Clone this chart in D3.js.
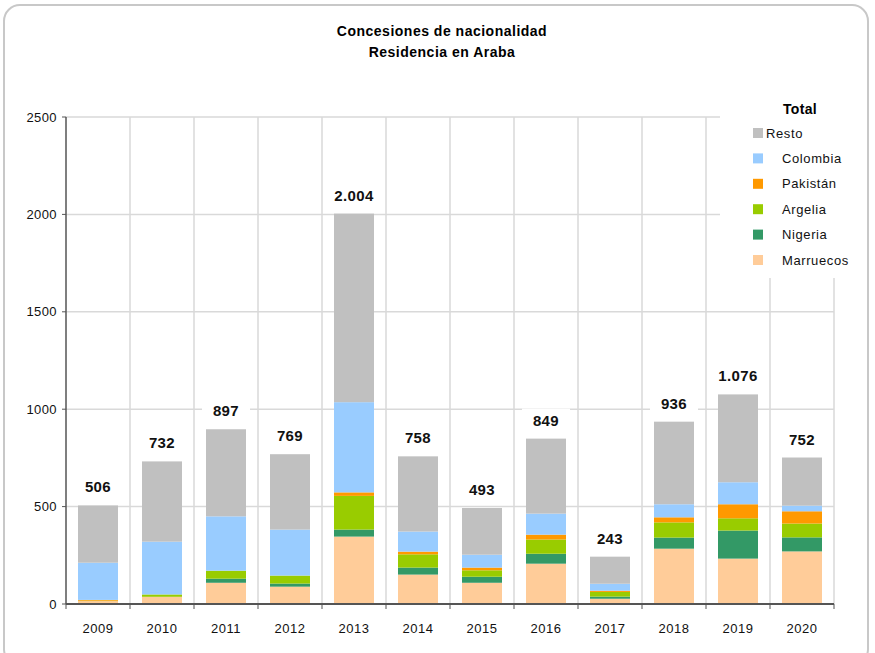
<!DOCTYPE html>
<html>
<head>
<meta charset="utf-8">
<script src="https://cdn.jsdelivr.net/npm/d3@7"></script>
<style>
body{margin:0;background:#fff;}
svg{display:block;font-family:'Liberation Sans',Arial,sans-serif;}
</style>
</head>
<body>
<svg id="chart" width="875" height="653"></svg>
<script>
var years=['2009','2010','2011','2012','2013','2014','2015','2016','2017','2018','2019','2020'];
var totals=[506,732,897,769,2004,758,493,849,243,936,1076,752];
var marruecos=[15,37,109,89,346,151,109,207,27,284,233,270];
var nigeria=[0,0,21,16,36,36,31,51,11,57,144,72];
var argelia=[2,12,41,41,173,68,33,73,24,78,63,71];
var pakistan=[4,0,0,0,18,14,14,25,6,26,72,63];
var colombia=[191,271,279,236,463,103,66,108,36,67,113,29];
var resto=[294,412,447,387,968,386,240,385,139,424,451,247];
var yTicks=[0,500,1000,1500,2000,2500];

// stack order, bottom to top
var seriesNames=['Marruecos','Nigeria','Argelia','Pakistán','Colombia','Resto'];
var seriesColors=['#ffcc99','#339966','#99cc00','#ff9900','#99ccff','#c0c0c0'];

var svg=d3.select('#chart');

// outer frame
svg.append('rect')
    .attr('x',4)
    .attr('y',5)
    .attr('width',864)
    .attr('height',660)
    .attr('rx',16)
    .attr('ry',16)
    .style('fill','#fff')
    .style('stroke','#c8c8c8')
    .style('stroke-width',2);

// title
svg.append('text')
    .attr('x',442)
    .attr('y',36)
    .attr('text-anchor','middle')
    .style('font-size','14px')
    .style('letter-spacing','0.5px')
    .style('font-weight','bold')
    .text('Concesiones de nacionalidad');
svg.append('text')
    .attr('x',442)
    .attr('y',57)
    .attr('text-anchor','middle')
    .style('font-size','14px')
    .style('letter-spacing','0.5px')
    .style('font-weight','bold')
    .text('Residencia en Araba');

var x=d3.scaleBand()
    .domain(years)
    .range([66,834])
    .paddingInner(0.375)
    .paddingOuter(0.1875);
var y=d3.scaleLinear()
    .domain([0,2500])
    .range([604,117]);

var step=x.step();
var left=x.range()[0];

// grid
var grid=svg.append('g');
grid.selectAll('line.h')
    .data(yTicks.slice(1))
    .enter()
    .append('line')
    .attr('class','h')
    .attr('x1',left)
    .attr('x2',834)
    .attr('y1',function(d){return y(d);})
    .attr('y2',function(d){return y(d);})
    .style('stroke','#d9d9d9')
    .style('stroke-width',1.5);
grid.selectAll('line.v')
    .data(years.slice(1).concat(['end']))
    .enter()
    .append('line')
    .attr('class','v')
    .attr('x1',function(d,i){return left+step*(i+1);})
    .attr('x2',function(d,i){return left+step*(i+1);})
    .attr('y1',y(2500))
    .attr('y2',y(0))
    .style('stroke','#d9d9d9')
    .style('stroke-width',1.5);

// stacked bars
var rows=years.map(function(yr,i){
    return {year:yr,Marruecos:marruecos[i],Nigeria:nigeria[i],Argelia:argelia[i],
        'Pakistán':pakistan[i],Colombia:colombia[i],Resto:resto[i]};
});
var stack=d3.stack().keys(seriesNames)(rows);

svg.selectAll('g.layer')
    .data(stack)
    .enter()
    .append('g')
    .attr('class','layer')
    .style('fill',function(d,i){return seriesColors[i];})
    .selectAll('rect')
    .data(function(d){return d;})
    .enter()
    .append('rect')
    .attr('x',function(d){return x(d.data.year);})
    .attr('width',x.bandwidth())
    .attr('y',function(d){return y(d[1]);})
    .attr('height',function(d){return y(d[0])-y(d[1]);});

// total labels
var es=d3.formatLocale({decimal:',',thousands:'.',grouping:[3],currency:['','€']});
var fmt=es.format(',d');
var labels=svg.append('g');
years.forEach(function(yr,i){
    var cx=x(yr)+x.bandwidth()/2;
    var top=y(d3.sum(stack,function(s){return s[i][1]-s[i][0];}));
    labels.append('rect')
        .attr('x',cx-24)
        .attr('y',top-30)
        .attr('width',48)
        .attr('height',23)
        .style('fill','#fff');
    labels.append('text')
        .attr('x',cx)
        .attr('y',top-13)
        .attr('text-anchor','middle')
        .style('font-size','15px')
        .style('letter-spacing','0.4px')
        .style('font-weight','bold')
        .style('fill','#111')
        .text(fmt(totals[i]));
});

// axes
var axisColor='#555';
svg.append('line')
    .attr('x1',left)
    .attr('x2',left)
    .attr('y1',y(2500))
    .attr('y2',y(0))
    .style('stroke',axisColor)
    .style('stroke-width',1.5);
svg.append('line')
    .attr('x1',left)
    .attr('x2',834)
    .attr('y1',y(0))
    .attr('y2',y(0))
    .style('stroke',axisColor)
    .style('stroke-width',2);

var yAxis=svg.append('g');
yAxis.selectAll('line')
    .data(yTicks)
    .enter()
    .append('line')
    .attr('x1',left-4)
    .attr('x2',left)
    .attr('y1',function(d){return y(d);})
    .attr('y2',function(d){return y(d);})
    .style('stroke',axisColor);
yAxis.selectAll('text')
    .data(yTicks)
    .enter()
    .append('text')
    .attr('x',left-9)
    .attr('y',function(d){return y(d)+4.5;})
    .attr('text-anchor','end')
    .style('font-size','13px')
    .style('letter-spacing','0.4px')
    .style('fill','#111')
    .text(function(d){return d;});

var xAxis=svg.append('g');
xAxis.selectAll('line')
    .data(d3.range(years.length+1))
    .enter()
    .append('line')
    .attr('x1',function(d){return left+step*d;})
    .attr('x2',function(d){return left+step*d;})
    .attr('y1',y(0))
    .attr('y2',y(0)+5)
    .style('stroke',axisColor);
xAxis.selectAll('text')
    .data(years)
    .enter()
    .append('text')
    .attr('x',function(d){return x(d)+x.bandwidth()/2;})
    .attr('y',y(0)+29)
    .attr('text-anchor','middle')
    .style('font-size','13px')
    .style('letter-spacing','0.5px')
    .style('fill','#111')
    .text(function(d){return d;});

// legend
var legend=svg.append('g');
legend.append('rect')
    .attr('x',720)
    .attr('y',95)
    .attr('width',145)
    .attr('height',183)
    .style('fill','#fff');
legend.append('text')
    .attr('x',800)
    .attr('y',114)
    .attr('text-anchor','middle')
    .style('font-size','14px')
    .style('letter-spacing','0.3px')
    .style('font-weight','bold')
    .text('Total');
var legendNames=seriesNames.slice().reverse();
var legendColors=seriesColors.slice().reverse();
legendNames.forEach(function(name,i){
    var ly=133+i*25.4;
    legend.append('rect')
        .attr('x',753)
        .attr('y',ly-5)
        .attr('width',10)
        .attr('height',10)
        .style('fill',legendColors[i]);
    legend.append('text')
        .attr('x',name=='Resto'?766:782)
        .attr('y',ly+4.5)
        .style('font-size','13px')
        .style('letter-spacing','0.6px')
        .style('fill','#111')
        .text(name);
});
</script>
</body>
</html>
